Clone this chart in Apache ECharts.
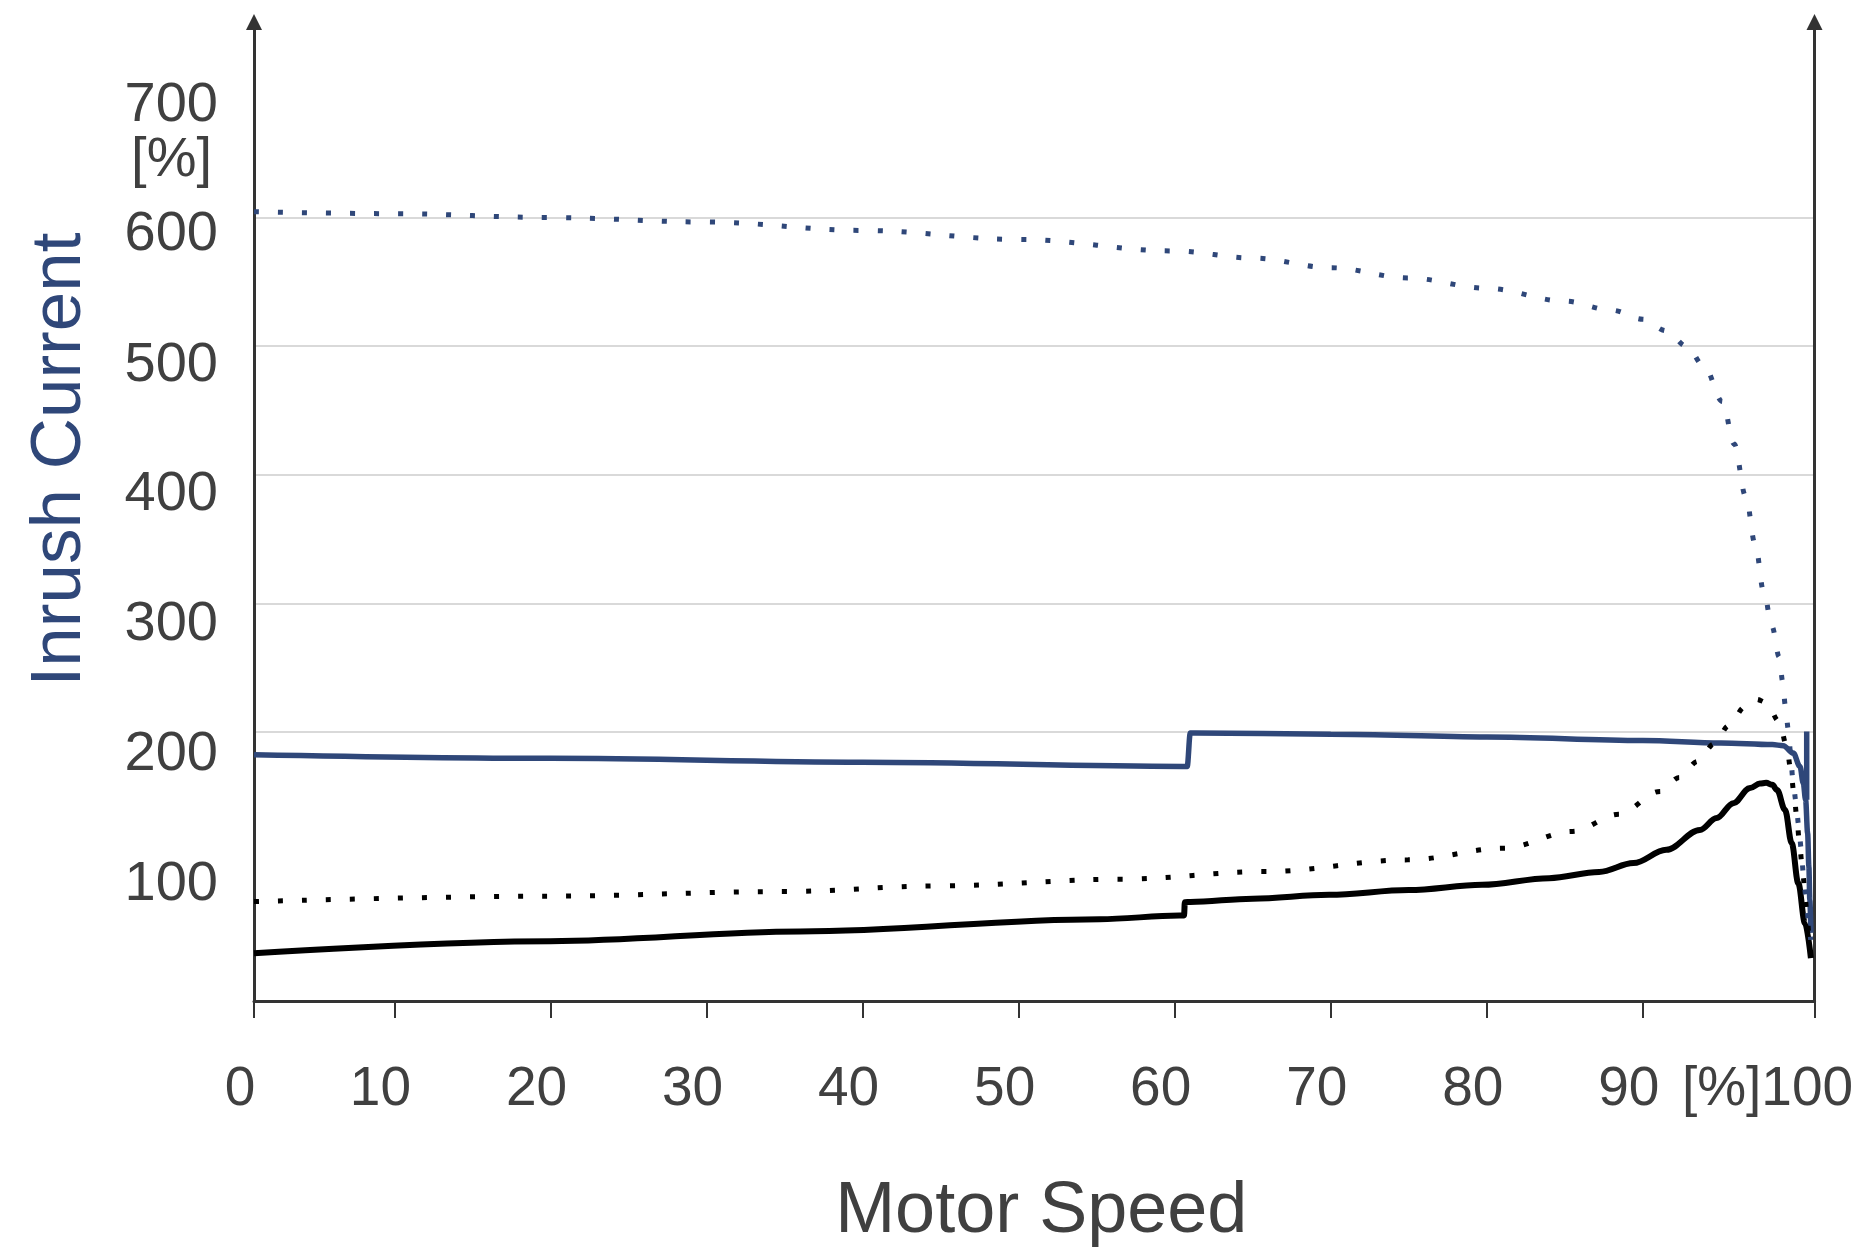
<!DOCTYPE html>
<html>
<head>
<meta charset="utf-8">
<title>Inrush Current vs Motor Speed</title>
<script src="https://cdn.jsdelivr.net/npm/echarts@6/dist/echarts.min.js"></script>
<style>
  html, body { margin: 0; padding: 0; background: #ffffff; }
  #chart { width: 1856px; height: 1248px; }
</style>
</head>
<body>
<div id="chart"></div>
<script>
// Speed axis: tick positions and their printed labels
const speedTicks = [1, 10, 20, 30, 40, 50, 60, 70, 80, 90, 101];
const speedTickLabels = ['0', '10', '20', '30', '40', '50', '60', '70', '80', '90', '100'];
const speedUnit = '[%]';

// Current axis: tick positions and labels
const currentTicks = [100, 200, 300, 400, 500, 600, 700];
const currentUnit = '[%]';

// Direct-on-line current (dotted blue)
const dolCurrent = [
  [1, 604.5], [10, 603], [20, 600], [30, 596.5], [40, 590], [50, 583], [60, 574],
  [65, 568.5], [70, 561], [75, 553], [80, 545], [85, 535], [88, 528], [90, 521],
  [91.5, 512], [92.8, 500], [93.95, 484], [95.1, 457], [95.85, 424], [96.6, 383],
  [97.2, 346], [97.75, 309], [98.28, 282], [98.74, 258.4], [98.96, 239.4],
  [99.13, 220.7], [99.32, 202.4], [99.47, 183.7], [99.6, 165], [99.81, 146.6],
  [99.98, 128.2], [100.15, 109.5], [100.28, 90.8], [100.45, 72.2], [100.62, 53.5],
  [100.75, 38.5]
];

// Soft-start current (solid blue), with the closing vertical segment
const softCurrent = [
  [1, 182.4], [20, 179.6], [40, 176.6], [60.5, 173.35], [60.8, 173.3], [61.0, 199.4],
  [61.3, 199.35], [70, 198.4], [80, 196.2], [90, 193.5], [95, 191.6], [98.3, 190.3],
  [99.0, 189.5], [99.64, 183.7], [100.07, 173.3], [100.28, 160.4], [100.43, 147.4],
  [100.56, 121.5], [100.64, 95.5], [100.7, 69.6], [100.77, 44]
];
const softCurrentEnd = [[100.5, 200.5], [100.5, 147.4]];

// Direct-on-line torque (dotted black)
const dolTorque = [
  [1, 68.3], [20, 72.5], [35, 76.1], [45, 80.5], [56.6, 85.7], [65.8, 91.6],
  [74.95, 100.7], [81.1, 109.8], [85.5, 122.8], [88.45, 136.2], [91.1, 153.9],
  [92.34, 164.7], [93.51, 177.2], [94.56, 190.7], [95.5, 205], [96.53, 219.5],
  [97.3, 225.5], [97.89, 223.1], [98.74, 208.3], [99.21, 189.6], [99.47, 172],
  [99.68, 153.1], [99.86, 135], [100.02, 116.3], [100.2, 97.6], [100.37, 79],
  [100.5, 60.5], [100.66, 42.4], [100.72, 36]
];

// Soft-start torque (solid black)
const softTorque = [
  [1, 28.2], [20, 37.5], [36, 45], [55.2, 54.6], [60.3, 57.4], [60.6, 57.5],
  [60.65, 67.8], [61, 68.0], [65, 70.5], [69.9, 73.5], [75, 77.3], [79.7, 81.3],
  [84, 86.5], [87.2, 91.3], [89.4, 98.2], [91.5, 108.5], [93.66, 124], [94.73, 133.2],
  [95.8, 144.8], [96.87, 156.5], [97.5, 160], [97.9, 160.6], [98.3, 159], [98.6, 155],
  [99.11, 139.6], [99.54, 113.7], [99.96, 82.6], [100.39, 51.5], [100.77, 24.3]
];

const FONT = '"Liberation Sans", Arial, Helvetica, sans-serif';
const AXIS_COLOR = '#333333';
const TEXT_COLOR = '#404040';
const NAVY = '#2f4779';
const DOT = [5, 19];
const Y_LABEL_SIZE = 56;
const UNIT_LINE = 55;

// Current-axis label styles: labels sit a little lower toward the bottom of the axis
const currentLabelRich = {
  unit: { fontSize: Y_LABEL_SIZE, fontFamily: FONT, color: TEXT_COLOR, lineHeight: UNIT_LINE, padding: [0, 6, 0, 0] }
};
currentTicks.forEach(function (v) {
  const drop = 2 * (3.5 + (700 - v) / 600 * 7.2);
  const top = v === currentTicks[currentTicks.length - 1] ? drop + UNIT_LINE : drop;
  currentLabelRich['c' + v] = {
    fontSize: Y_LABEL_SIZE, fontFamily: FONT, color: TEXT_COLOR,
    padding: [Math.round(top), 0, 0, 0]
  };
});

const chart = echarts.init(document.getElementById('chart'), null, { renderer: 'canvas' });

const option = {
  animation: false,
  backgroundColor: '#ffffff',
  textStyle: { fontFamily: FONT },
  grid: { left: 254, right: 41.5, top: 22, bottom: 247, outerBoundsMode: 'none' },
  xAxis: {
    type: 'value',
    min: 1,
    max: 101,
    name: 'Motor Speed',
    nameLocation: 'middle',
    nameGap: 175,
    nameTextStyle: { fontSize: 72, color: TEXT_COLOR, fontFamily: FONT, padding: [0, 0, 0, 14] },
    axisLine: { show: true, onZero: false, lineStyle: { color: AXIS_COLOR, width: 3 } },
    axisTick: { show: true, inside: false, length: 17, customValues: speedTicks,
      lineStyle: { color: AXIS_COLOR, width: 2 } },
    axisLabel: {
      show: true,
      customValues: speedTicks,
      showMinLabel: true,
      showMaxLabel: true,
      margin: 61,
      fontSize: 55,
      fontFamily: FONT,
      color: TEXT_COLOR,
      padding: [0, 28, 0, 0],
      formatter: function (v) {
        const i = speedTicks.indexOf(v);
        const txt = i >= 0 ? speedTickLabels[i] : '';
        if (i === speedTicks.length - 1) return '{e|' + speedUnit + txt + '}';
        return txt;
      },
      rich: {
        e: { fontSize: 55, fontFamily: FONT, color: TEXT_COLOR, padding: [0, 66, 0, 0] }
      }
    },
    splitLine: { show: false }
  },
  yAxis: [
    {
      type: 'value',
      position: 'left',
      min: -9,
      max: 752,
      minInterval: 100,
      maxInterval: 100,
      name: 'Inrush Current',
      nameLocation: 'middle',
      nameGap: 158,
      nameRotate: 90,
      nameTextStyle: { fontSize: 71, color: NAVY, fontFamily: FONT, padding: [0, 0, 0, 104] },
      axisLine: { show: true, onZero: false, lineStyle: { color: AXIS_COLOR, width: 3 },
        symbol: ['none', 'triangle'], symbolSize: [16, 16] },
      axisTick: { show: false, customValues: currentTicks },
      axisLabel: {
        show: true,
        customValues: currentTicks,
        margin: 36,
        fontSize: Y_LABEL_SIZE,
        fontFamily: FONT,
        color: TEXT_COLOR,
        padding: [26, 0, 0, 0],
        formatter: function (v) {
          const key = 'c' + v;
          if (v === currentTicks[currentTicks.length - 1]) {
            return '{' + key + '|' + v + '}\n{unit|' + currentUnit + '}';
          }
          return '{' + key + '|' + v + '}';
        },
        rich: currentLabelRich
      },
      splitLine: { show: true, showMinLine: false, showMaxLine: false,
        lineStyle: { color: '#d9d9d9', width: 2 } }
    },
    {
      type: 'value',
      position: 'right',
      min: -9,
      max: 752,
      axisLine: { show: true, onZero: false, lineStyle: { color: AXIS_COLOR, width: 3 },
        symbol: ['none', 'triangle'], symbolSize: [16, 16] },
      axisTick: { show: false },
      axisLabel: { show: false },
      splitLine: { show: false }
    }
  ],
  series: [
    {
      name: 'Soft-start current',
      type: 'line',
      data: softCurrent.concat(['-'], softCurrentEnd),
      showSymbol: false,
      smooth: 0.35,
      smoothMonotone: 'x',
      connectNulls: false,
      lineStyle: { color: NAVY, width: 5.5 },
      z: 3
    },
    {
      name: 'Soft-start torque',
      type: 'line',
      data: softTorque,
      showSymbol: false,
      smooth: 0.35,
      smoothMonotone: 'x',
      lineStyle: { color: '#000000', width: 6 },
      z: 4
    },
    {
      name: 'DOL current',
      type: 'line',
      data: dolCurrent,
      showSymbol: false,
      smooth: 0.35,
      smoothMonotone: 'x',
      lineStyle: { color: NAVY, width: 5, type: DOT, cap: 'butt' },
      z: 5
    },
    {
      name: 'DOL torque',
      type: 'line',
      data: dolTorque,
      showSymbol: false,
      smooth: 0.35,
      smoothMonotone: 'x',
      lineStyle: { color: '#000000', width: 5, type: DOT, cap: 'butt' },
      z: 6
    }
  ]
};

chart.setOption(option);
</script>
</body>
</html>
